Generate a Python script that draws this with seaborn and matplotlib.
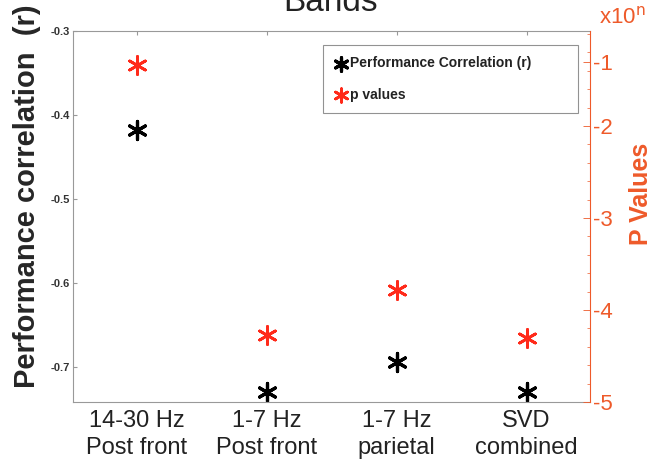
import matplotlib
matplotlib.use('Agg')
import matplotlib.pyplot as plt
from matplotlib.ticker import FixedLocator, AutoMinorLocator
import seaborn as sns

# categories and values
bands = ['14-30 Hz\nPost front', '1-7 Hz\nPost front', '1-7 Hz\nparietal', 'SVD\ncombined']
corr_r = [-0.418, -0.730, -0.694, -0.730]
p_exp = [-1.34, -4.27, -3.78, -4.30]

# right axis tick positions and their printed labels
p_ticks = [-5, -4, -3, -2, -1.3]
p_tick_labels = ['-5', '-4', '-3', '-2', '-1']

ORANGE = '#ee5a2a'
RED = '#ff2a1a'

sns.set_style('white')
plt.rcParams['font.family'] = ['Liberation Sans', 'DejaVu Sans']

fig = plt.figure(figsize=(6.58, 4.71), dpi=100)
ax = fig.add_axes([0.111, 0.1465, 0.786, 0.7875])
ax2 = ax.twinx()

star = (6, 2, 0)
sns.scatterplot(x=range(len(bands)), y=corr_r, marker=star, color='black',
                s=170, linewidth=2.3, ax=ax, label='Performance Correlation (r)',
                legend=False)
sns.scatterplot(x=range(len(bands)), y=p_exp, marker=star, color=RED,
                s=170, linewidth=2.0, ax=ax2, label='p values', legend=False)

ax.set_xlim(-0.49, 3.49)
ax.set_ylim(-0.742, -0.3)
ax.set_yticks([-0.7, -0.6, -0.5, -0.4, -0.3])
ax.set_yticklabels(['-0.7', '-0.6', '-0.5', '-0.4', '-0.3'],
                   fontsize=8, fontweight='bold', color='#333333')
ax.set_xticks(range(len(bands)))
ax.set_xticklabels(bands, fontsize=17, color='#222222', linespacing=1.25)
ax.tick_params(axis='y', direction='in', length=3, pad=2, color='#999999')
ax.tick_params(axis='x', direction='in', length=3, pad=6, color='#999999',
               top=True)
for side in ['left', 'top', 'bottom']:
    ax.spines[side].set_color('#999999')
ax.spines['right'].set_visible(False)
ax.set_ylabel('Performance correlation  (r)', fontsize=21, fontweight='bold')
ax.yaxis.set_label_coords(-0.062, 0.555)

ax2.set_ylim(-5, -5 + 371 / 92)
ax2.yaxis.set_major_locator(FixedLocator(p_ticks))
ax2.set_yticklabels(p_tick_labels, fontsize=16, color=ORANGE)
ax2.yaxis.set_minor_locator(AutoMinorLocator(5))
ax2.tick_params(axis='y', which='major', direction='in', length=5, pad=2,
                color=ORANGE, width=0.6)
ax2.tick_params(axis='y', which='minor', direction='in', length=2.5,
                color=ORANGE, width=0.5, right=True)
ax2.spines['right'].set_color(ORANGE)
for side in ['left', 'top', 'bottom']:
    ax2.spines[side].set_visible(False)
ax2.set_ylabel('P Values', fontsize=18, fontweight='bold', color=ORANGE)
ax2.yaxis.set_label_coords(1.075, 0.56)

fig.text(0.945, 0.962, 'x10$^{\\mathrm{n}}$', fontsize=16, color=ORANGE,
         ha='center', va='center')
fig.text(0.503, 0.962, 'Bands', fontsize=24, color='#222222',
         ha='center', va='bottom')

h1, l1 = ax.get_legend_handles_labels()
h2, l2 = ax2.get_legend_handles_labels()
leg = ax2.legend(h1 + h2, l1 + l2, loc='upper left', mode='expand',
                 bbox_to_anchor=(0.484, 0.787, 0.493, 0.175), frameon=True,
                 fancybox=False, prop={'size': 10, 'weight': 'bold'},
                 markerscale=0.75, handlelength=0.9, handletextpad=0.2,
                 borderpad=0.8, labelspacing=1.25, borderaxespad=0)
leg.get_frame().set_edgecolor('#777777')
leg.get_frame().set_linewidth(0.8)
for t in leg.get_texts():
    t.set_color('#222222')

fig.savefig('out.png', dpi=100)
